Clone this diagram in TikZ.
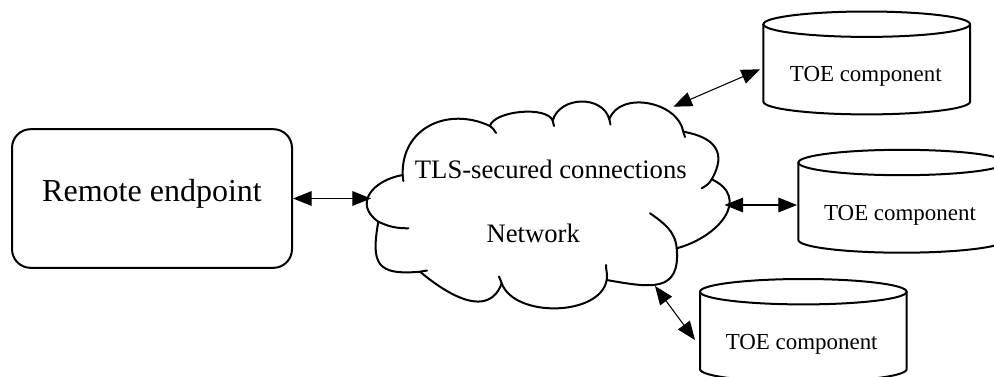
\documentclass[tikz,border=0pt]{standalone}
\usepackage{fontspec}
\setmainfont{Liberation Serif}
\usetikzlibrary{arrows.meta}
\begin{document}
\begin{tikzpicture}[x=0.75pt,y=0.75pt,
  outline/.style={line width=1.5pt, line join=round, line cap=round},
  link/.style={line width=0.8pt,
    {Triangle[length=14pt,width=11pt]}-{Triangle[length=14pt,width=11pt]}},
  lbl/.style={inner sep=0pt, anchor=base},
  drum/.pic={
    \draw[outline, fill=white] (-103.3,0) -- (-103.3,-77.5)
      arc[start angle=180, end angle=360, x radius=103.3, y radius=12.7]
      -- (103.3,0);
    \draw[outline] (0,0) ellipse[x radius=103.3, y radius=12.7];
  }]
\useasboundingbox (0,0) rectangle (994,376);

% remote endpoint box
\node[draw, line width=1.5pt, rounded corners=14pt, minimum width=210pt,
      minimum height=104pt, inner sep=0pt] (endpoint) at (152,177.5) {};
\node[lbl, font=\fontsize{24}{28}\selectfont] (endtext) at (152,174.3) {Remote endpoint};

% cloud junctions
\coordinate (J1) at (402.7,201);
\coordinate (J2) at (490,250);
\coordinate (J3) at (552.7,255.3);
\coordinate (J4) at (609.3,256.7);
\coordinate (J5) at (683.3,244.3);
\coordinate (J6) at (711.7,196.7);
\coordinate (J7) at (676.7,127.7);
\coordinate (J8) at (606.7,96);
\coordinate (J9) at (501.7,92.7);
\coordinate (J10) at (420,104.3);
\coordinate (J11) at (378.3,154.3);

\draw[outline, fill=white]
  (J1) to[out=92, in=155, looseness=1.2] (J2)
       to[out=75, in=110, looseness=0.65] (J3)
       to[out=75, in=105, looseness=1.15] (J4)
       to[out=70, in=100, looseness=1.05] (J5)
       to[out=-10, in=60, looseness=1.45] (J6)
       to[out=-25, in=15, looseness=1.45] (J7)
       to[out=-85, in=-10, looseness=1.5] (J8)
       to[out=-100, in=-70, looseness=0.9] (J9)
       to[out=-110, in=-40, looseness=1.17] (J10)
       to[out=185, in=-100, looseness=1.7] (J11)
       to[out=145, in=190, looseness=1.49] (J1) -- cycle;

% inner hooks of the cloud lobes
\draw[outline] (J1) to[out=-88, in=92] (403.3,195);
\draw[outline] (J2) to[out=-30, in=125] (496,243);
\draw[outline] (J3) to[out=-70, in=100] (554,250);
\draw[outline] (J4) to[out=-75, in=110] (610.5,251.5);
\draw[outline] (J5) to[out=-80, in=100] (685,239);
\draw[outline] (J6) to[out=-120, in=30] (701.7,187.7);
\draw[outline] (J7) to[out=95, in=-35] (650,162.7);
\draw[outline] (J8) to[out=80, in=-90] (606,111);
\draw[outline] (J9) to[out=110, in=-70] (499,99.5);
\draw[outline] (J10) to[out=5, in=185] (427,105.5);
\draw[outline] (J11) to[out=-25, in=180] (408.3,147.7);

\node[lbl, font=\fontsize{20}{24}\selectfont] (tls) at (550.8,197.7) {TLS-secured connections};
\node[lbl, font=\fontsize{20}{24}\selectfont] (net) at (533.3,133.3) {Network};

% TOE components
\pic at (866.7,351.8) {drum};
\pic at (901.7,213.5) {drum};
\pic at (803.3,84.3) {drum};
\node[lbl, font=\fontsize{17.2}{20}\selectfont] (toe1) at (865.8,294.3) {TOE component};
\node[lbl, font=\fontsize{17.2}{20}\selectfont] (toe2) at (900,156) {TOE component};
\node[lbl, font=\fontsize{17.2}{20}\selectfont] (toe3) at (801.7,27) {TOE component};

% connector ends
\coordinate (cloudW) at (371,177.5);
\coordinate (cloudNE) at (673.3,269.3);
\coordinate (cloudE) at (724.5,171);
\coordinate (cloudSE) at (655,90);
\coordinate (drumA) at (760,306.7);
\coordinate (drumB) at (797,171);
\coordinate (drumC) at (695,36);

\draw[link] (endpoint.east) -- (cloudW);
\draw[link] (cloudNE) -- (drumA);
\draw[link] (cloudE) -- (drumB);
\draw[link] (cloudSE) -- (drumC);
\end{tikzpicture}
\end{document}
